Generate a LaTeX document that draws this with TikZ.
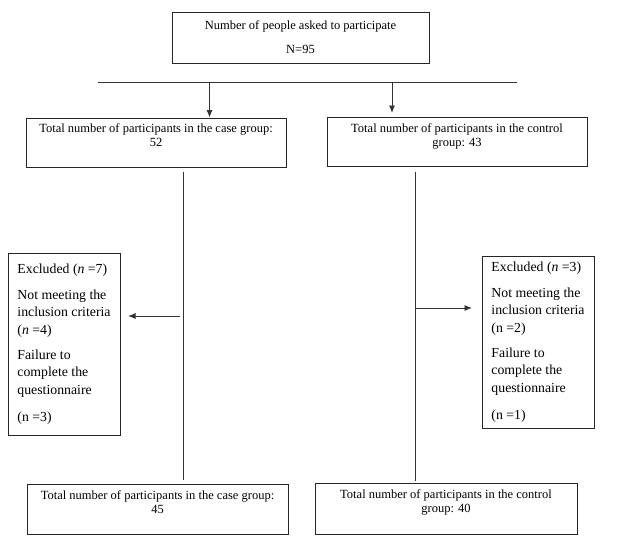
\documentclass[tikz,border=0pt]{standalone}
\usepackage{fontspec}
\setmainfont{Liberation Serif}
\usetikzlibrary{arrows.meta}
\begin{document}
\begin{tikzpicture}[x=1pt,y=-1pt,
  box/.style={draw=black!85, line width=0.9pt, rectangle, inner sep=0pt, align=center,
    font=\fontsize{12.5}{14}\selectfont},
  exbox/.style={draw=black!85, line width=0.9pt, rectangle, inner sep=0pt, align=left,
    font=\fontsize{13.8}{17.5}\selectfont},
  conn/.style={draw=black!80, line width=0.9pt},
  arr/.style={conn, -{Latex[length=7.5pt,width=6pt]}}
]
\useasboundingbox (0,0) rectangle (628,543);
\fill[white] (0,0) rectangle (628,543);

% top box
\node[box, minimum width=257pt, minimum height=51pt] (top) at (300.5,37.5)
  {Number of people asked to participate\\[10pt]N=95};

% horizontal line
\coordinate (hl) at (98,82);
\coordinate (hr) at (517,82);
\draw[conn] (hl) -- (hr);

% group boxes
\node[box, minimum width=260pt, minimum height=49pt] (case) at (156,142.5)
  {Total number of participants in the case group:\\52\\\mbox{}};
\node[box, minimum width=260pt, minimum height=49pt] (control) at (457,142)
  {Total number of participants in the control\\group: 43\\\mbox{}};

% top arrows
\coordinate (a1) at (209.5,82);
\coordinate (a2) at (392,82);
\draw[arr] (a1) -- (case.north -| a1);
\draw[arr] (a2) -- (392,113);

% exclusion boxes
\node[exbox, minimum width=112pt, minimum height=182pt] (exl) at (64,344)
  {Excluded (\textit{n} =7)\\[8pt]Not meeting the\\inclusion criteria\\(\textit{n} =4)\\[7.5pt]Failure to\\complete the\\questionnaire\\[9.5pt](n =3)};
\node[exbox, minimum width=112pt, minimum height=172pt] (exr) at (538,342)
  {Excluded (\textit{n} =3)\\[8pt]Not meeting the\\inclusion criteria\\(n =2)\\[7.5pt]Failure to\\complete the\\questionnaire\\[9.5pt](n =1)};

% bottom boxes
\node[box, minimum width=261pt, minimum height=50pt] (casef) at (157.5,509)
  {Total number of participants in the case group:\\45\\\mbox{}};
\node[box, minimum width=262pt, minimum height=51pt] (controlf) at (446,508.5)
  {Total number of participants in the control\\group: 40\\\mbox{}};

% vertical lines
\coordinate (vl1) at (183,172);
\coordinate (vl2) at (183,480);
\coordinate (vr1) at (415,172);
\coordinate (vr2) at (415,481);
\draw[conn] (vl1) -- (vl2);
\draw[conn] (vr1) -- (vr2);

% side arrows
\coordinate (sl) at (180,316);
\coordinate (sr) at (415,308);
\draw[arr] (sl) -- (128,316);
\draw[arr] (sr) -- (472,308);
\end{tikzpicture}
\end{document}
